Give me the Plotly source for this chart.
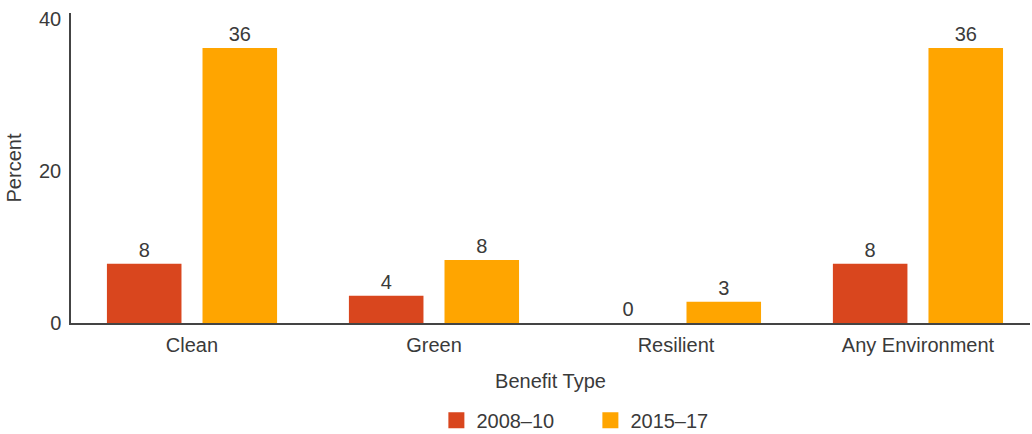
import plotly.graph_objects as go

categories = ["Clean", "Green", "Resilient", "Any Environment"]
period_a = "2008\u201310"
period_b = "2015\u201317"
values_a = [7.8, 3.6, 0.0, 7.8]
values_b = [36.2, 8.3, 2.8, 36.2]

red = "#D9461E"
orange = "#FFA500"
font_family = "'Liberation Sans', Arial, sans-serif"
text_color = "#3a3a3a"
fs = 20

fig = go.Figure()
for name, vals, col in [(period_a, values_a, red), (period_b, values_b, orange)]:
    fig.add_trace(go.Bar(
        x=categories, y=vals, name=name, showlegend=False,
        marker=dict(color=col, line=dict(width=0)),
        texttemplate="%{y:.0f}", textposition="outside",
        textfont=dict(size=fs, color=text_color, family=font_family),
        cliponaxis=False,
    ))
    # square swatches for the legend
    fig.add_trace(go.Scatter(
        x=[None], y=[None], name=name, mode="markers",
        marker=dict(symbol="square", size=16, color=col),
    ))

fig.update_layout(
    width=1032, height=434,
    margin=dict(l=71, r=2, t=13, b=111, autoexpand=False),
    paper_bgcolor="white", plot_bgcolor="white",
    barmode="group", bargap=0.21, bargroupgap=0.22,
    font=dict(family=font_family, color=text_color, size=fs),
    showlegend=True,
    legend=dict(orientation="h", x=0.381, xanchor="left",
                yref="paper", y=-0.314, yanchor="middle",
                font=dict(size=fs), itemsizing="trace", itemwidth=30,
                entrywidth=109, entrywidthmode="pixels",
                traceorder="normal", tracegroupgap=0),
    xaxis=dict(
        range=[-0.5, 3.463],
        showline=True, linecolor="#444444", linewidth=1.5,
        ticks="", showgrid=False, zeroline=False, automargin=False,
        tickfont=dict(size=fs), ticklabelstandoff=3,
        title=dict(text="Benefit Type", font=dict(size=fs), standoff=19),
    ),
    yaxis=dict(
        range=[0, 40.8], tickvals=[0, 20, 40],
        showline=True, linecolor="#444444", linewidth=1.5,
        ticks="", showgrid=False, zeroline=False, automargin=False,
        tickfont=dict(size=fs), ticklabelstandoff=4,
        title=dict(text="Percent", font=dict(size=fs), standoff=12),
    ),
)

fig.write_html("out.html")
